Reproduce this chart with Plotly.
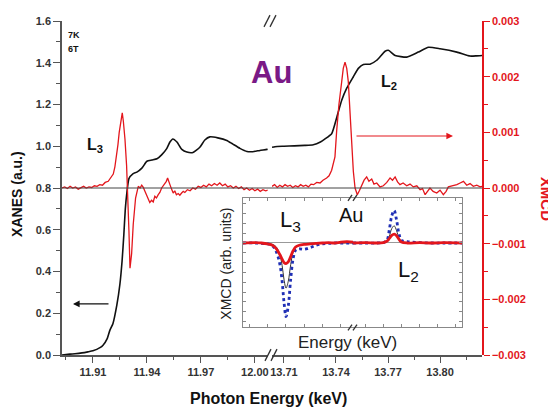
import plotly.graph_objects as go

# ---------------- data ----------------
# XANES, L3 edge (keV, a.u.)
l3_xanes_e = [11.8928, 11.8972, 11.9000, 11.9039, 11.9072, 11.9100, 11.9139, 11.9156, 11.9180,
              11.9194, 11.9211, 11.9233, 11.9250, 11.9262, 11.9272, 11.9280, 11.9289, 11.9300,
              11.9322, 11.9344, 11.9372, 11.9400, 11.9428, 11.9456, 11.9483, 11.9511, 11.9528,
              11.9544, 11.9567, 11.9594, 11.9622, 11.9656, 11.9694, 11.9722, 11.9750, 11.9794,
              11.9844, 11.9878, 11.9917, 11.9956, 11.9989, 12.0028, 12.0067, 12.0072]
l3_xanes_v = [0.000, 0.004, 0.006, 0.010, 0.015, 0.020, 0.035, 0.047, 0.080,
              0.118, 0.150, 0.240, 0.340, 0.450, 0.580, 0.700, 0.780, 0.845,
              0.868, 0.876, 0.895, 0.928, 0.934, 0.940, 0.960, 0.990, 1.020,
              1.035, 1.020, 0.985, 0.972, 0.970, 0.995, 1.030, 1.045, 1.040,
              1.028, 1.010, 0.990, 0.975, 0.974, 0.980, 0.985, 0.986]

# XANES, L2 edge
l2_xanes_e = [13.7031, 13.7048, 13.7100, 13.7160, 13.7220, 13.7269, 13.7310, 13.7337, 13.7375,
              13.7404, 13.7433, 13.7462, 13.7500, 13.7529, 13.7558, 13.7596, 13.7635, 13.7683,
              13.7702, 13.7741, 13.7808, 13.7875, 13.7933, 13.8000, 13.8097, 13.8173, 13.8210,
              13.8242]
l2_xanes_v = [0.995, 0.998, 1.000, 1.002, 1.004, 1.007, 1.020, 1.035, 1.060,
              1.137, 1.220, 1.278, 1.333, 1.373, 1.392, 1.393, 1.412, 1.455,
              1.460, 1.435, 1.427, 1.451, 1.474, 1.467, 1.451, 1.432, 1.433,
              1.435]

# XMCD, L3 edge (units of 1e-3)
l3_xmcd_e = [11.8928, 11.8943, 11.8958, 11.8973, 11.8988, 11.9003, 11.9018, 11.9033, 11.9048,
             11.9063, 11.9078, 11.9093, 11.9108, 11.9123, 11.9138, 11.9153, 11.9168, 11.9185,
             11.9200, 11.9213, 11.9222, 11.9232, 11.9239, 11.9246, 11.9256, 11.9263, 11.9269,
             11.9278, 11.9287, 11.9293, 11.9300, 11.9306, 11.9315, 11.9324, 11.9337, 11.9352,
             11.9362, 11.9371, 11.9380, 11.9389, 11.9398, 11.9407, 11.9416, 11.9426, 11.9435,
             11.9444, 11.9453, 11.9463, 11.9472, 11.9482, 11.9491, 11.9500, 11.9508, 11.9515,
             11.9521, 11.9528, 11.9537, 11.9546, 11.9555, 11.9564, 11.9574, 11.9583, 11.9593,
             11.9602, 11.9611, 11.9625, 11.9640, 11.9655, 11.9670, 11.9685, 11.9700, 11.9715,
             11.9730, 11.9745, 11.9760, 11.9775, 11.9790, 11.9805, 11.9820, 11.9835, 11.9850,
             11.9865, 11.9880, 11.9895, 11.9910, 11.9925, 11.9940, 11.9955, 11.9970, 11.9985,
             12.0000, 12.0015, 12.0030, 12.0045, 12.0060, 12.0072]
l3_xmcd_v = [0.00, 0.02, -0.01, 0.03, 0.00, 0.02, -0.02, 0.01, 0.03,
             0.00, 0.02, 0.01, 0.04, 0.03, 0.06, 0.05, 0.10, 0.12,
             0.18, 0.25, 0.38, 0.59, 0.78, 1.00, 1.25, 1.35, 1.20,
             0.88, 0.41, 0.00, -0.76, -1.44, -1.18, -0.65, -0.18, 0.03,
             0.00, 0.05, 0.01, -0.06, -0.12, -0.18, -0.26, -0.22, -0.25,
             -0.15, -0.18, -0.12, -0.08, 0.00, 0.04, 0.09, 0.12, 0.18,
             0.10, 0.06, -0.02, -0.09, -0.05, -0.12, -0.10, -0.13, -0.09,
             -0.06, -0.08, -0.03, -0.05, 0.00, -0.02, 0.03, 0.01, 0.05,
             0.02, 0.07, 0.04, 0.08, 0.05, 0.09, 0.04, 0.07, 0.02,
             0.04, 0.00, 0.03, -0.01, 0.02, -0.03, 0.00, -0.04, -0.01,
             -0.05, -0.02, -0.06, -0.03, -0.05, -0.04]

# XMCD, L2 edge (units of 1e-3)
l2_xmcd_e = [13.7031, 13.7046, 13.7061, 13.7076, 13.7091, 13.7106, 13.7121, 13.7136, 13.7151,
             13.7166, 13.7181, 13.7196, 13.7211, 13.7226, 13.7241, 13.7256, 13.7271, 13.7289,
             13.7308, 13.7325, 13.7346, 13.7360, 13.7375, 13.7394, 13.7404, 13.7417, 13.7433,
             13.7442, 13.7452, 13.7462, 13.7471, 13.7481, 13.7491, 13.7500, 13.7510, 13.7523,
             13.7536, 13.7548, 13.7562, 13.7577, 13.7590, 13.7606, 13.7619, 13.7635, 13.7654,
             13.7673, 13.7693, 13.7712, 13.7726, 13.7741, 13.7755, 13.7769, 13.7787, 13.7808,
             13.7827, 13.7846, 13.7866, 13.7885, 13.7899, 13.7914, 13.7928, 13.7942, 13.7960,
             13.7981, 13.8000, 13.8019, 13.8035, 13.8048, 13.8069, 13.8097, 13.8116, 13.8135,
             13.8154, 13.8173, 13.8192, 13.8212, 13.8231, 13.8242]
l2_xmcd_v = [0.03, 0.06, 0.01, 0.05, 0.02, 0.06, 0.03, 0.05, 0.01,
             0.04, 0.02, 0.06, 0.03, 0.05, 0.02, 0.07, 0.06, 0.10,
             0.09, 0.14, 0.18, 0.22, 0.32, 0.56, 1.03, 1.50, 1.91,
             2.15, 2.26, 2.15, 1.91, 1.35, 0.70, 0.30, 0.00, -0.12,
             -0.04, 0.06, 0.14, 0.20, 0.12, 0.16, 0.07, 0.09, 0.02,
             0.04, 0.10, 0.18, 0.14, 0.20, 0.11, 0.06, 0.09, 0.04,
             0.07, 0.02, 0.04, -0.03, -0.01, -0.12, -0.05, 0.00, -0.06,
             -0.09, -0.04, -0.12, -0.06, 0.02, 0.04, 0.06, 0.09, 0.12,
             0.05, 0.08, 0.03, 0.05, 0.02, 0.03]

# Inset: XMCD (arb. units)
in_l3_e = [11.890, 11.900, 11.905, 11.910, 11.914, 11.917, 11.920, 11.922, 11.9235, 11.9252,
           11.927, 11.929, 11.931, 11.933, 11.936, 11.940, 11.945, 11.950, 11.955, 11.960,
           11.965, 11.970, 11.975, 11.980]
in_l3_red = [0.00, 0.01, 0.00, -0.02, -0.05, -0.12, -0.25, -0.36, -0.43, -0.457,
             -0.42, -0.30, -0.17, -0.09, -0.05, -0.03, -0.02, -0.01, 0.00, 0.01,
             0.00, 0.02, 0.03, 0.02]
in_l3_blue = [0.00, 0.00, -0.01, -0.02, -0.06, -0.18, -0.45, -0.85, -1.30, -1.63,
              -1.40, -0.80, -0.35, -0.16, -0.13, -0.14, -0.10, -0.05, -0.02, -0.01,
              0.00, 0.00, 0.00, 0.00]
in_l3_black = [0.00, 0.00, 0.00, -0.01, -0.03, -0.08, -0.25, -0.50, -0.80, -1.00,
               -0.85, -0.48, -0.20, -0.09, -0.05, -0.03, -0.02, -0.01, 0.00, 0.00,
               0.00, 0.00, 0.00, 0.00]
in_l2_e = [13.715, 13.725, 13.735, 13.740, 13.743, 13.745, 13.747, 13.749, 13.751, 13.753,
           13.755, 13.760, 13.770, 13.780, 13.790, 13.805]
in_l2_red = [0.00, 0.01, 0.00, 0.01, 0.04, 0.10, 0.17, 0.196, 0.16, 0.08,
             0.02, 0.00, 0.01, 0.00, 0.01, 0.00]
in_l2_blue = [0.00, 0.00, 0.00, 0.01, 0.06, 0.30, 0.60, 0.72, 0.50, 0.20,
              0.06, 0.03, 0.01, 0.00, 0.00, 0.00]
in_l2_black = [0.00, 0.00, 0.00, 0.00, 0.03, 0.15, 0.32, 0.38, 0.27, 0.10,
               0.03, 0.01, 0.00, 0.00, 0.00, 0.00]

x_ticks_left = [11.91, 11.94, 11.97, 12.00]
x_ticks_right = [13.71, 13.74, 13.77, 13.80]

# ---------------- figure ----------------
RED = "#e3161c"
AX = "#555555"
FONT = "Liberation Sans, Arial, sans-serif"

l3_xmcd = [v * 1e-3 for v in l3_xmcd_v]
l2_xmcd = [v * 1e-3 for v in l2_xmcd_v]

fig = go.Figure()
fig.add_trace(go.Scatter(x=l3_xanes_e, y=l3_xanes_v, xaxis="x", yaxis="y", mode="lines",
                         line=dict(color="#111111", width=1.6, shape="spline", smoothing=0.5)))
fig.add_trace(go.Scatter(x=l2_xanes_e, y=l2_xanes_v, xaxis="x2", yaxis="y", mode="lines",
                         line=dict(color="#111111", width=1.6, shape="spline", smoothing=0.5)))
fig.add_trace(go.Scatter(x=l3_xmcd_e, y=l3_xmcd, xaxis="x", yaxis="y2", mode="lines",
                         line=dict(color=RED, width=1.3)))
fig.add_trace(go.Scatter(x=l2_xmcd_e, y=l2_xmcd, xaxis="x2", yaxis="y2", mode="lines",
                         line=dict(color=RED, width=1.3)))

# inset traces
for xs, ys, xa, ya in [(in_l3_e, in_l3_black, "x5", "y5"), (in_l2_e, in_l2_black, "x6", "y6")]:
    fig.add_trace(go.Scatter(x=xs, y=ys, xaxis=xa, yaxis=ya, mode="lines",
                             line=dict(color="#333333", width=1, shape="spline")))
for xs, ys, xa, ya in [(in_l3_e, in_l3_blue, "x5", "y5"), (in_l2_e, in_l2_blue, "x6", "y6")]:
    fig.add_trace(go.Scatter(x=xs, y=ys, xaxis=xa, yaxis=ya, mode="lines",
                             line=dict(color="#1f2fb5", width=2.8, dash="dot", shape="spline")))
for xs, ys, xa, ya in [(in_l3_e, in_l3_red, "x5", "y5"), (in_l2_e, in_l2_red, "x6", "y6")]:
    fig.add_trace(go.Scatter(x=xs, y=ys, xaxis=xa, yaxis=ya, mode="lines",
                             line=dict(color=RED, width=2.8, shape="spline")))

tickfont = dict(family=FONT, size=11, color="#333333", weight=700)
redfont = dict(family=FONT, size=11, color=RED, weight=700)

xcommon = dict(showline=True, linecolor=AX, linewidth=1.5, showgrid=False, zeroline=False,
               ticks="outside", ticklen=6, tickwidth=1.2, tickcolor=AX, tickfont=tickfont,
               tickformat=".2f", dtick=0.03)
xtop = dict(showline=True, linecolor=AX, linewidth=1.5, showgrid=False, zeroline=False,
            ticks="inside", ticklen=5, tickwidth=1.2, tickcolor=AX, showticklabels=False,
            side="top", anchor="y", dtick=0.03)
inset_ax = dict(showline=True, linecolor="#888888", linewidth=1, showgrid=False,
                ticks="inside", ticklen=3, tickcolor="#888888", showticklabels=False)

# the page body adds an 8 px offset, so the figure is 8 px smaller and margins shifted
fig.update_layout(
    width=548, height=404,
    margin=dict(l=54, r=74, t=7, b=57),
    paper_bgcolor="white", plot_bgcolor="rgba(0,0,0,0)",
    showlegend=False,
    font=dict(family=FONT),
    xaxis=dict(domain=[0, 0.49], range=[11.8928, 12.0072], anchor="y", tick0=11.91,
               tickvals=x_ticks_left,
               minor=dict(ticks="outside", ticklen=3, tick0=11.895, dtick=0.015, tickcolor=AX),
               **xcommon),
    xaxis2=dict(domain=[0.5, 1], range=[13.7031, 13.8242], anchor="y", tick0=13.71,
                tickvals=x_ticks_right,
                minor=dict(ticks="outside", ticklen=3, tick0=13.695, dtick=0.015, tickcolor=AX),
                **xcommon),
    xaxis3=dict(domain=[0, 0.49], range=[11.8928, 12.0072], tick0=11.91,
                minor=dict(ticks="inside", ticklen=3, tick0=11.895, dtick=0.015, tickcolor=AX),
                **xtop),
    xaxis4=dict(domain=[0.5, 1], range=[13.7031, 13.8242], tick0=13.71,
                minor=dict(ticks="inside", ticklen=3, tick0=13.695, dtick=0.015, tickcolor=AX),
                **xtop),
    yaxis=dict(domain=[0, 1], range=[0, 1.6], anchor="x", side="left", dtick=0.2,
               tickformat=".1f", showline=True, linecolor=AX, linewidth=1.5, showgrid=False,
               zeroline=False, ticks="outside", ticklen=7, tickwidth=1.2, tickcolor=AX,
               tickfont=tickfont,
               minor=dict(ticks="outside", ticklen=4, dtick=0.1, tickcolor=AX)),
    yaxis2=dict(domain=[0, 1], range=[-0.003, 0.003], anchor="x2", side="right", dtick=0.001,
                tickformat=".3f", showline=True, linecolor=RED, linewidth=1.5, showgrid=False,
                zeroline=False, ticks="outside", ticklen=6, tickwidth=1.2, tickcolor=RED,
                tickfont=redfont,
                minor=dict(ticks="outside", ticklen=4, dtick=0.0005, tickcolor=RED)),
    xaxis5=dict(domain=[0.431, 0.6929], range=[11.89, 11.98], anchor="y5", mirror="ticks",
                dtick=0.015, zeroline=False, **inset_ax),
    xaxis6=dict(domain=[0.6929, 0.9524], range=[13.715, 13.805], anchor="y6", mirror="ticks",
                dtick=0.015, zeroline=False, **inset_ax),
    yaxis5=dict(domain=[0.0824, 0.4706], range=[-1.87, 1.0], anchor="x5", side="left",
                dtick=0.2174, zeroline=True, zerolinecolor="#999999", zerolinewidth=1,
                **inset_ax),
    yaxis6=dict(domain=[0.0824, 0.4706], range=[-1.87, 1.0], anchor="x6", side="right",
                dtick=0.2174, zeroline=True, zerolinecolor="#999999", zerolinewidth=1,
                **inset_ax),
)

def px(x):
    return (x - 62) / 420.0

def py(y):
    return (355 - y) / 340.0

shapes = []
# horizontal reference line at XANES 0.8 / XMCD 0
shapes.append(dict(type="line", xref="paper", yref="y", x0=0, x1=1, y0=0.8, y1=0.8,
                   line=dict(color="#444444", width=1)))
# axis break marks
for (xa, ya, xb, yb) in [(265, 361, 271, 349), (271, 361, 277, 349),
                         (264, 21, 270, 9), (270, 21, 276, 9),
                         (348, 198, 352, 192), (353, 198, 357, 192),
                         (348, 330, 352, 324), (353, 330, 357, 324)]:
    shapes.append(dict(type="line", xref="paper", yref="paper", x0=px(xa), y0=py(ya),
                       x1=px(xb), y1=py(yb), line=dict(color="#333333", width=1.3)))
fig.update_layout(shapes=shapes)

ann = []
def text(x, y, t, size, color="#111111", bold=True, angle=0, xanchor="center"):
    ann.append(dict(x=px(x), y=py(y), xref="paper", yref="paper", text=t, showarrow=False,
                    textangle=angle, xanchor=xanchor, yanchor="middle",
                    font=dict(family=FONT, size=size, color=color, weight=700 if bold else 400)))

text(66, 29, "7K", 9, xanchor="left")
text(66, 43, "6T", 9, xanchor="left")
text(271, 67, "Au", 31, color="#7a1a86")
text(95, 142, "L<sub>3</sub>", 16)
text(389, 78, "L<sub>2</sub>", 16)
text(17, 191, "XANES (a.u.)", 14, angle=-90)
text(546, 196, "XMCD", 15, color=RED, angle=90)
text(268, 399, "Photon Energy (keV)", 16)
# inset texts
text(290, 219, "L<sub>3</sub>", 22, bold=False)
text(351, 212, "Au", 20, bold=False)
text(408, 269, "L<sub>2</sub>", 22, bold=False)
text(347, 342, "Energy (keV)", 17, color="#222222", bold=False)
text(226, 262, "XMCD (arb. units)", 14, color="#222222", bold=False, angle=-90)

# arrows
ann.append(dict(x=px(73), y=py(303), xref="paper", yref="paper", text="", showarrow=True,
                ax=37, ay=0, arrowhead=2, arrowsize=1.2, arrowwidth=1.1, arrowcolor="#111111"))
ann.append(dict(x=px(453), y=py(132), xref="paper", yref="paper", text="", showarrow=True,
                ax=-98, ay=0, arrowhead=2, arrowsize=1.2, arrowwidth=1.1, arrowcolor=RED))
fig.update_layout(annotations=ann)

fig.write_html("out.html")
